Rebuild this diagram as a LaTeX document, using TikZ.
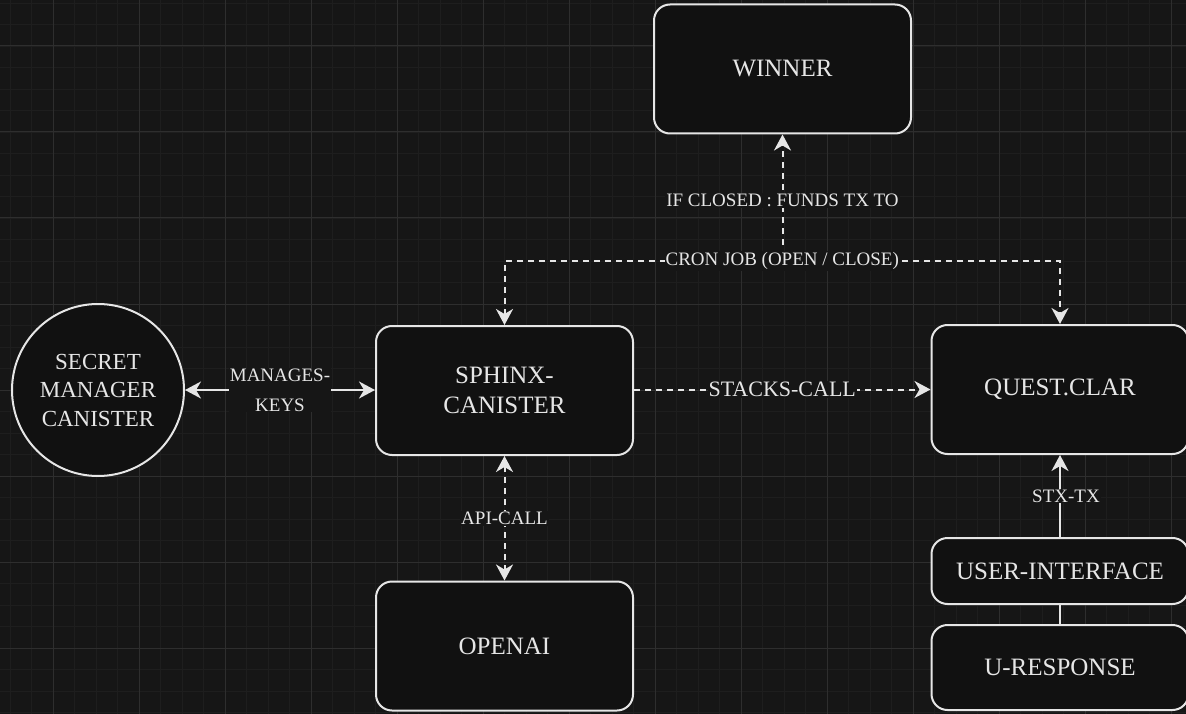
\documentclass[tikz,border=0pt]{standalone}
\usepackage{fontspec}
\setmainfont{Liberation Serif}
\usetikzlibrary{arrows.meta}
\definecolor{bgc}{HTML}{161616}
\definecolor{gridminor}{HTML}{1E1E1E}
\definecolor{gridmajor}{HTML}{2E2E2E}
\definecolor{boxfill}{HTML}{111111}
\definecolor{fg}{HTML}{E6E6E6}
\tikzset{
  box/.style={draw=fg, line width=2pt, fill=boxfill, rounded corners=16pt, text=fg,
    font=\fontsize{25}{30}\selectfont, align=center, minimum width=257pt,
    minimum height=129pt, inner sep=0pt},
  roundbox/.style={circle, draw=fg, line width=2pt, fill=boxfill, minimum size=172pt,
    text=fg, font=\fontsize{23}{28.5}\selectfont, align=center, inner sep=0pt},
  conn/.style={draw=fg, line width=2pt},
  dashline/.style={dash pattern=on 6pt off 5pt},
  tip/.tip={Stealth[length=16pt, width=17pt, inset=5pt]},
  lbl/.style={fill=bgc, text=fg, font=\fontsize{19}{30}\selectfont, inner sep=1pt, align=center}
}
\begin{document}
\begin{tikzpicture}[x=1pt, y=-1pt]
\fill[bgc] (0,0) rectangle (1186,714);
\useasboundingbox (0,0) rectangle (1186,714);
% grid
\foreach \x in {10,31.5,...,1186} \draw[gridminor, line width=0.8pt] (\x,0) -- (\x,714);
\foreach \y in {3,24.5,...,714} \draw[gridminor, line width=0.8pt] (0,\y) -- (1186,\y);
\foreach \x in {53,139,...,1186} \draw[gridmajor, line width=1pt] (\x,0) -- (\x,714);
\foreach \y in {46,132,...,714} \draw[gridmajor, line width=1pt] (0,\y) -- (1186,\y);

% nodes
\node[box] (winner) at (782.5,69) {WINNER};
\node[box] (sphinx) at (504.5,390.5) {SPHINX-\\CANISTER};
\node[box] (quest) at (1060,389.5) {QUEST.CLAR};
\node[box] (openai) at (504.5,646) {OPENAI};
\node[box, minimum height=66pt] (ui) at (1060,571) {USER-INTERFACE};
\node[box, minimum height=85pt] (uresp) at (1060,667.5) {U-RESPONSE};
\node[roundbox] (secret) at (98,390) {SECRET\\MANAGER\\CANISTER};

\coordinate (cl) at (504.5,261);
\coordinate (cr) at (1060,261);
\coordinate (cronmid) at (782.5,245);

% connectors
\draw[conn, {tip}-{tip}] (secret.east) -- node[lbl]{MANAGES-\\KEYS} (sphinx.west |- secret.east);
\draw[conn, dashline, -{tip}] (sphinx.east |- quest.west) -- node[lbl, font=\fontsize{22}{26}\selectfont]{STACKS-CALL} (quest.west);
\draw[conn, dashline, {tip}-{tip}] (sphinx.south) -- node[lbl]{API-CALL} (openai.north);
\draw[conn, dashline, {tip}-{tip}] (sphinx.north) -- (cl) -- node[lbl]{CRON JOB (OPEN / CLOSE)} (cr) -- (quest.north);
\draw[conn, dashline, -{tip}] (cronmid) -- node[lbl, pos=0.4]{IF CLOSED : FUNDS TX TO} (winner.south);
\draw[conn, -{tip}] (ui.north) -- node[lbl, xshift=6pt]{STX-TX} (quest.south);
\draw[conn] (ui.south) -- (uresp.north);
\end{tikzpicture}
\end{document}
